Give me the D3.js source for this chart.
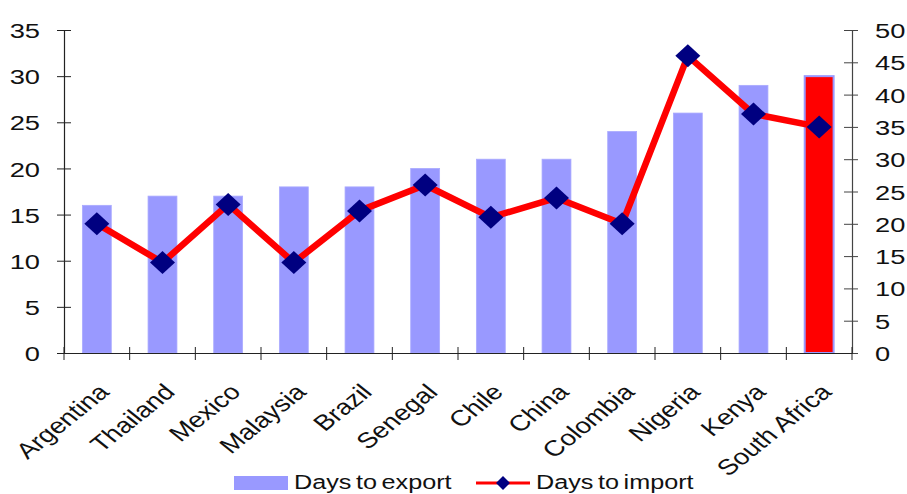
<!DOCTYPE html>
<html>
<head>
<meta charset="utf-8">
<script src="https://cdn.jsdelivr.net/npm/d3@7"></script>
<style>
  html, body { margin: 0; padding: 0; background: #fff; }
  svg { display: block; font-family: "Liberation Sans", Arial, sans-serif; }
</style>
</head>
<body>
<svg id="chart" width="907" height="494"></svg>
<script>
// Days needed to export / import, by country
const countries = ["Argentina", "Thailand", "Mexico", "Malaysia", "Brazil", "Senegal",
                   "Chile", "China", "Colombia", "Nigeria", "Kenya", "South Africa"];
const daysToExport = [16, 17, 17, 18, 18, 20, 21, 21, 24, 26, 29, 30];
const daysToImport = [20, 14, 23, 14, 22, 26, 21, 24, 20, 46, 37, 35];
const leftTicks = [0, 5, 10, 15, 20, 25, 30, 35];
const rightTicks = [0, 5, 10, 15, 20, 25, 30, 35, 40, 45, 50];
const highlighted = "South Africa";

const svg = d3.select("#chart");
const plot = { left: 64, right: 852, top: 30, bottom: 353 };

const x = d3.scaleBand().domain(countries).range([plot.left, plot.right]).padding(0);
const yL = d3.scaleLinear().domain([0, 35]).range([plot.bottom, plot.top]);
const yR = d3.scaleLinear().domain([0, 50]).range([plot.bottom, plot.top]);

const barW = x.bandwidth() * 0.44;
const axisColor = "#222";
const textStretch = 1.3;

// Bars: days to export
svg.append("g").selectAll("rect")
  .data(countries)
  .join("rect")
  .attr("x", d => x(d) + (x.bandwidth() - barW) / 2)
  .attr("y", (d, i) => yL(daysToExport[i]))
  .attr("width", barW)
  .attr("height", (d, i) => yL(0) - yL(daysToExport[i]))
  .attr("fill", d => d === highlighted ? "#ff0000" : "#9999ff")
  .attr("stroke", d => d === highlighted ? "#9999ff" : "#aaaaff")
  .attr("stroke-width", d => d === highlighted ? 2 : 0.8);

// Left axis
const gL = svg.append("g")
  .attr("transform", `translate(${plot.left},0)`)
  .call(d3.axisLeft(yL).tickValues(leftTicks).tickSize(7));
gL.select(".domain").attr("stroke", axisColor).attr("stroke-width", 1.2);
gL.selectAll(".tick line").attr("x1", 7).attr("x2", -7).attr("stroke", axisColor);
gL.selectAll(".tick text")
  .attr("x", null)
  .attr("dy", "0.36em")
  .attr("text-anchor", "end")
  .attr("transform", `translate(-24,0) scale(${textStretch},1)`)
  .attr("font-size", 21)
  .attr("font-family", "Liberation Sans, Arial, sans-serif")
  .attr("fill", "#111");

// Right axis
const gR = svg.append("g")
  .attr("transform", `translate(${plot.right},0)`)
  .call(d3.axisRight(yR).tickValues(rightTicks).tickSize(6));
gR.select(".domain").attr("stroke", "#444").attr("stroke-width", 1.2);
gR.selectAll(".tick line").attr("x1", -8).attr("x2", 6).attr("stroke", "#444");
gR.selectAll(".tick text")
  .attr("x", null)
  .attr("dy", "0.36em")
  .attr("text-anchor", "start")
  .attr("transform", `translate(23,0) scale(${textStretch},1)`)
  .attr("font-size", 21)
  .attr("font-family", "Liberation Sans, Arial, sans-serif")
  .attr("fill", "#111");

// Bottom axis with category labels
const gB = svg.append("g")
  .attr("transform", `translate(0,${plot.bottom})`)
  .call(d3.axisBottom(x).tickSize(0));
gB.select(".domain").attr("stroke", axisColor).attr("stroke-width", 1.2);
gB.selectAll(".tick line").remove();
gB.selectAll(".tick text")
  .attr("x", null).attr("y", null)
  .attr("dy", "0.35em")
  .attr("text-anchor", "end")
  .attr("transform", `translate(7,35) scale(1.25,1) rotate(-45)`)
  .attr("font-size", 22)
  .attr("font-family", "Liberation Sans, Arial, sans-serif")
  .attr("fill", "#111");

// Category boundary ticks
const bounds = countries.map(c => x(c)).concat([plot.right]);
svg.append("g").selectAll("line")
  .data(bounds)
  .join("line")
  .attr("x1", d => d).attr("x2", d => d)
  .attr("y1", plot.bottom - 6).attr("y2", plot.bottom + 7)
  .attr("stroke", axisColor);

// Line: days to import
const cx = d => x(d) + x.bandwidth() / 2;
const line = d3.line()
  .x((d, i) => cx(countries[i]))
  .y(d => yR(d));
svg.append("path")
  .datum(daysToImport)
  .attr("d", line)
  .attr("fill", "none")
  .attr("stroke", "#ff0000")
  .attr("stroke-width", 6.5)
  .attr("stroke-linejoin", "round");

const diamond = (hw, hh) => `M0,${-hh}L${hw},0L0,${hh}L${-hw},0Z`;
svg.append("g").selectAll("path")
  .data(daysToImport)
  .join("path")
  .attr("transform", (d, i) => `translate(${cx(countries[i])},${yR(d)})`)
  .attr("d", diamond(12.5, 11.5))
  .attr("fill", "#000080");

// Legend
const legend = svg.append("g");
legend.append("rect")
  .attr("x", 234).attr("y", 476).attr("width", 54).attr("height", 14)
  .attr("fill", "#9999ff");
legend.append("text")
  .attr("transform", "translate(294,489) scale(1.2,1)")
  .attr("font-size", 21).attr("word-spacing", -2).attr("fill", "#111")
  .text("Days to export");
legend.append("line")
  .attr("x1", 476).attr("x2", 530).attr("y1", 483).attr("y2", 483)
  .attr("stroke", "#ff0000").attr("stroke-width", 3);
legend.append("path")
  .attr("transform", "translate(503,483)")
  .attr("d", diamond(7, 7))
  .attr("fill", "#000080");
legend.append("text")
  .attr("transform", "translate(536,489) scale(1.2,1)")
  .attr("font-size", 21).attr("word-spacing", -2).attr("fill", "#111")
  .text("Days to import");
</script>
</body>
</html>
